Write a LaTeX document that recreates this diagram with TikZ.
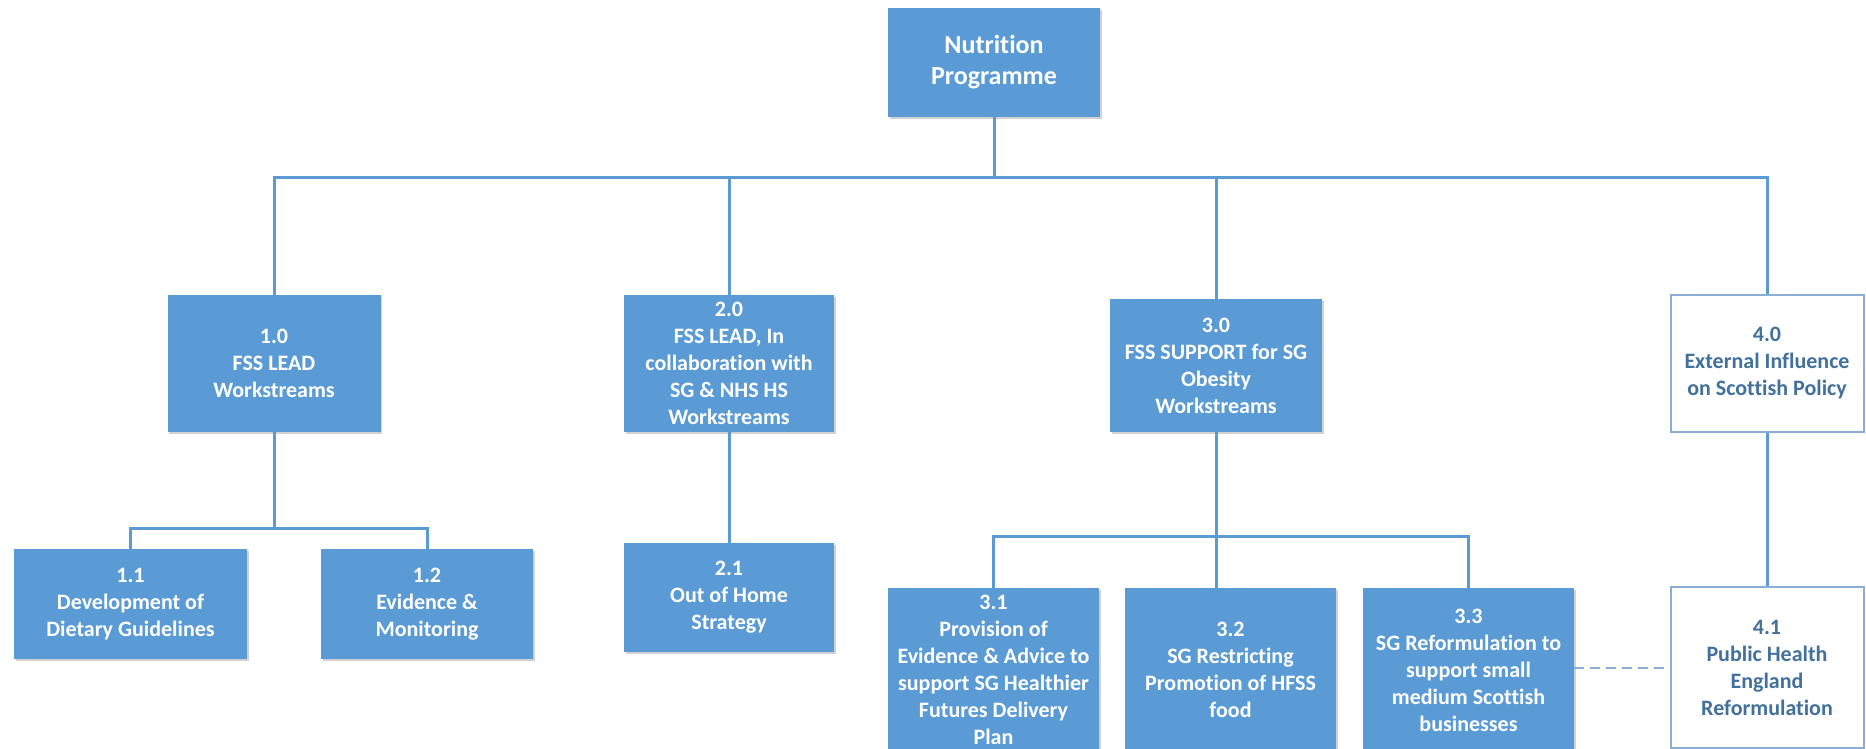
\documentclass[tikz,border=0pt]{standalone}
\usepackage{fontspec}
\setmainfont[Ligatures=CommonOff]{Carlito}
\usetikzlibrary{shadows}
\definecolor{fillblue}{HTML}{5B9BD5}
\definecolor{lineblue}{HTML}{5B9BD5}
\definecolor{textblue}{HTML}{41719C}
\definecolor{borderblue}{HTML}{8AAED6}
\tikzset{
  x=1pt, y=-1pt,
  bluebox/.style={rectangle, fill=fillblue, draw=none, text=white, align=center,
    inner sep=0pt, font=\fontsize{22}{27}\selectfont\bfseries,
    drop shadow={shadow xshift=1.5pt, shadow yshift=-2pt, fill=black, opacity=0.18}},
  whitebox/.style={rectangle, fill=white, draw=borderblue, line width=2pt, text=textblue, align=center,
    inner sep=0pt, font=\fontsize{22}{27}\selectfont\bfseries},
  conn/.style={draw=lineblue, line width=3pt},
  dashconn/.style={draw=borderblue, line width=2pt, dash pattern=on 10pt off 6pt}
}
\begin{document}
\begin{tikzpicture}
\clip (0,0) rectangle (1866,749);
\fill[white] (0,0) rectangle (1866,749);

% boxes
\node[bluebox, minimum width=212pt, minimum height=109pt, font=\fontsize{26}{31}\selectfont\bfseries] (top) at (994,62.5) {Nutrition\\Programme};

\node[bluebox, minimum width=213pt, minimum height=137pt] (n10) at (274,363.5) {1.0\\FSS LEAD\\Workstreams};
\node[bluebox, minimum width=210pt, minimum height=137pt] (n20) at (729,363.5) {2.0\\FSS LEAD, In\\collaboration with\\SG \& NHS HS\\Workstreams};
\node[bluebox, minimum width=212pt, minimum height=133pt] (n30) at (1216,365.5) {3.0\\FSS SUPPORT for SG\\Obesity\\Workstreams};
\node[whitebox, minimum width=193pt, minimum height=137pt] (n40) at (1767,363.5) {4.0\\External Influence\\on Scottish Policy};

\node[bluebox, minimum width=233pt, minimum height=110pt] (n11) at (130.5,604) {1.1\\Development of\\Dietary Guidelines};
\node[bluebox, minimum width=212pt, minimum height=110pt] (n12) at (427,604) {1.2\\Evidence \&\\Monitoring};
\node[bluebox, minimum width=210pt, minimum height=109pt] (n21) at (729,597.5) {2.1\\Out of Home\\Strategy};

\node[bluebox, minimum width=211pt, minimum height=164pt] (n31) at (993.5,670) {3.1\\Provision of\\Evidence \& Advice to\\support SG Healthier\\Futures Delivery\\Plan};
\node[bluebox, minimum width=211pt, minimum height=164pt] (n32) at (1230.5,670) {3.2\\SG Restricting\\Promotion of HFSS\\food};
\node[bluebox, minimum width=211pt, minimum height=164pt] (n33) at (1468.5,670) {3.3\\SG Reformulation to\\support small\\medium Scottish\\businesses};
\node[whitebox, minimum width=193pt, minimum height=161pt] (n41) at (1767,667.5) {4.1\\Public Health\\England\\Reformulation};

% bus coordinates
\coordinate (b0) at (994,177);
\coordinate (b1) at (274,528);
\coordinate (b3) at (1216,536);

% connectors
\draw[conn] (top.south) -- (b0);
\draw[conn] (b0) -| (n10.north);
\draw[conn] (b0) -| (n20.north);
\draw[conn] (b0) -| (n30.north);
\draw[conn] (b0) -| (n40.north);

\draw[conn] (n10.south) -- (b1);
\draw[conn] (b1) -| (n11.north);
\draw[conn] (b1) -| (n12.north);

\draw[conn] (n20.south) -- (n21.north);

\draw[conn] (n30.south) -- (b3);
\draw[conn] (b3) -| (n31.north);
\draw[conn] (b3) -- (b3 |- n32.north);
\draw[conn] (b3) -| (n33.north);

\draw[conn] (n40.south) -- (n41.north);

\draw[dashconn] (n33.east |- n41.west) -- (n41.west);
\end{tikzpicture}
\end{document}
